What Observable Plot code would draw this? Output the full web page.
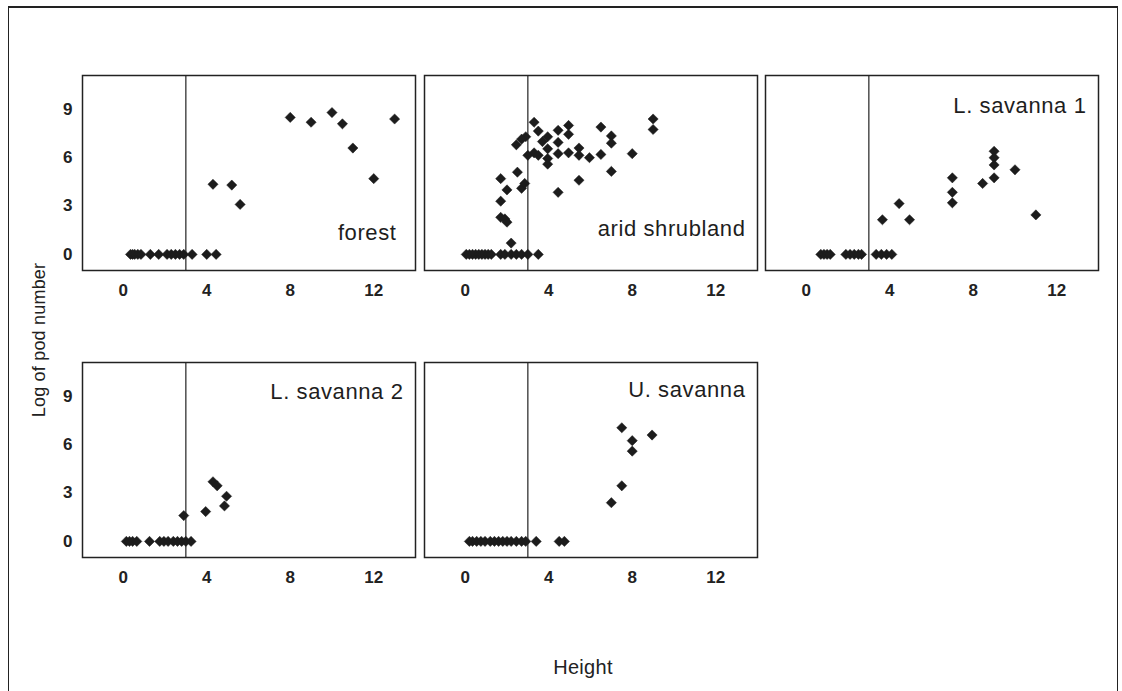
<!DOCTYPE html>
<html><head><meta charset="utf-8">
<script src="https://cdn.jsdelivr.net/npm/d3@7"></script>
<script src="https://cdn.jsdelivr.net/npm/@observablehq/plot@0.6"></script>
<style>
body{margin:0;background:#fff;}
#wrap{position:relative;width:1122px;height:691px;overflow:hidden;background:#fff;font-family:"Liberation Sans",Arial,sans-serif;color:#222;}
#border{position:absolute;left:8px;top:6px;width:1108px;height:720px;border:1.5px solid #222;border-top-width:2px;}
.panel{position:absolute;}
.ytitle{position:absolute;left:39px;top:340px;transform:translate(-50%,-50%) rotate(-90deg);font-size:18px;letter-spacing:0.2px;white-space:nowrap;}
.xtitle{position:absolute;left:583px;top:667px;transform:translate(-50%,-50%);font-size:20px;letter-spacing:0.3px;white-space:nowrap;}
</style></head>
<body><div id="wrap"><div id="border"></div>
<div class="ytitle">Log of pod number</div>
<div class="xtitle">Height</div>
</div>
<script>
// ---- data ----
const xTicks = [0, 4, 8, 12];
const yTicks = [0, 3, 6, 9];
const xDomain = [-1.95, 14];
const yDomain = [-1, 11.1];
const thresholdHeight = 3;

const panelNames = ["forest", "arid shrubland", "L. savanna 1", "L. savanna 2", "U. savanna"];

const forestHeight = [0.35,0.45,0.55,0.7,0.85,1.3,1.7,2.1,2.3,2.5,2.7,2.9,3.3,4.0,4.45, 4.3,5.2,5.6, 8,9,10,10.5,11,12,13];
const forestLogPods = [0,0,0,0,0,0,0,0,0,0,0,0,0,0,0, 4.35,4.3,3.1, 8.5,8.2,8.8,8.1,6.6,4.7,8.4];

const aridHeight = [0.05,0.2,0.35,0.5,0.65,0.8,0.95,1.1,1.25,1.7,1.9,2.2,2.45,2.7,3.0,3.5,
  9,9,6.5,7,7,8,7,5.45,4.45,4.95,4.95,4.45,4.45,3.3,3.5,3.95,3.7,2.9,2.7,2.45,3.95,3.0,3.3,3.5,3.95,3.95,
  4.45,4.95,5.45,5.45,5.95,6.5,2.5,1.7,2.0,1.7,1.7,1.9,2.0,2.2,2.7,2.85];
const aridLogPods = [0,0,0,0,0,0,0,0,0,0,0,0,0,0,0,0,
  8.4,7.75,7.9,7.35,6.9,6.25,5.15,4.6,3.85,8.0,7.45,7.7,6.95,8.2,7.65,7.3,7.0,7.3,7.15,6.8,6.55,6.15,6.3,6.15,5.95,5.6,
  6.25,6.3,6.6,6.15,6.0,6.2,5.1,4.7,4.0,3.3,2.3,2.2,2.0,0.7,4.1,4.4];

const lsav1Height = [0.7,0.85,1.0,1.15,1.9,2.1,2.3,2.5,2.65,3.35,3.6,3.85,4.1,
  3.65,4.45,4.95,7,7,7,8.45,9,9,9,9,10,11];
const lsav1LogPods = [0,0,0,0,0,0,0,0,0,0,0,0,0,
  2.15,3.15,2.15,4.75,3.85,3.2,4.4,6.4,6.0,5.55,4.75,5.25,2.45];

const lsav2Height = [0.15,0.3,0.45,0.65,1.26,1.75,1.95,2.15,2.4,2.6,2.8,3.0,3.25,
  2.9,3.95,4.3,4.5,4.95,4.85];
const lsav2LogPods = [0,0,0,0,0,0,0,0,0,0,0,0,0,
  1.6,1.85,3.7,3.45,2.8,2.2];

const usavHeight = [0.2,0.35,0.55,0.75,0.95,1.2,1.4,1.6,1.8,2.0,2.2,2.45,2.7,2.9,3.4,4.5,4.75,
  7.5,8,8,8.95,7.5,7];
const usavLogPods = [0,0,0,0,0,0,0,0,0,0,0,0,0,0,0,0,0,
  7.05,6.25,5.6,6.6,3.45,2.4];

// ---- layout ----
const M = {left: 40, right: 6, top: 6, bottom: 36};
const FW = 333, FH = 195;
const font = '"Liberation Sans", Arial, Helvetica, sans-serif';

const panels = [
  {name: panelNames[0], xs: forestHeight, ys: forestLogPods, left: 82, top: 75, showY: true, anchor: "bottom-right", dx: -19, dy: -38},
  {name: panelNames[1], xs: aridHeight, ys: aridLogPods, left: 424, top: 75, showY: false, anchor: "bottom-right", dx: -12, dy: -42},
  {name: panelNames[2], xs: lsav1Height, ys: lsav1LogPods, left: 765, top: 75, showY: false, anchor: "top-right", dx: -12, dy: 30},
  {name: panelNames[3], xs: lsav2Height, ys: lsav2LogPods, left: 82, top: 362, showY: true, anchor: "top-right", dx: -12, dy: 29},
  {name: panelNames[4], xs: usavHeight, ys: usavLogPods, left: 424, top: 362, showY: false, anchor: "top-right", dx: -12, dy: 27}
];

const wrap = document.getElementById("wrap");
for (const p of panels) {
  const data = p.xs.map((x, i) => ({height: x, logPods: p.ys[i]}));
  const chart = Plot.plot({
    width: FW + M.left + M.right,
    height: FH + M.top + M.bottom,
    marginLeft: M.left, marginRight: M.right, marginTop: M.top, marginBottom: M.bottom,
    style: {fontFamily: font, fontSize: "17px", fontWeight: "bold", color: "#222", background: "transparent", overflow: "visible"},
    x: {domain: xDomain, ticks: xTicks, tickSize: 0, tickPadding: 13, label: null},
    y: {domain: yDomain, ticks: yTicks, tickSize: 0, tickPadding: 10, label: null, axis: p.showY ? "left" : null},
    marks: [
      Plot.ruleX([thresholdHeight], {stroke: "#333", strokeWidth: 1.3}),
      Plot.dot(data, {x: "height", y: "logPods", symbol: d3.symbolDiamond2, r: 4.6, fill: "#1c1c1c", stroke: "#1c1c1c", strokeWidth: 0.5}),
      Plot.text([p.name], {text: d => d, frameAnchor: p.anchor, dx: p.dx, dy: p.dy, textAnchor: "end", lineAnchor: "middle", fontSize: 22, fontWeight: "normal", fill: "#1e1e1e"}),
      Plot.frame({stroke: "#222", strokeWidth: 1.5})
    ]
  });
  for (const t of chart.querySelectorAll("text")) {
    if (t.textContent === p.name) t.style.letterSpacing = "0.6px";
  }
  chart.classList.add("panel");
  chart.style.left = (p.left - M.left) + "px";
  chart.style.top = (p.top - M.top) + "px";
  wrap.appendChild(chart);
}
</script>
</body></html>
